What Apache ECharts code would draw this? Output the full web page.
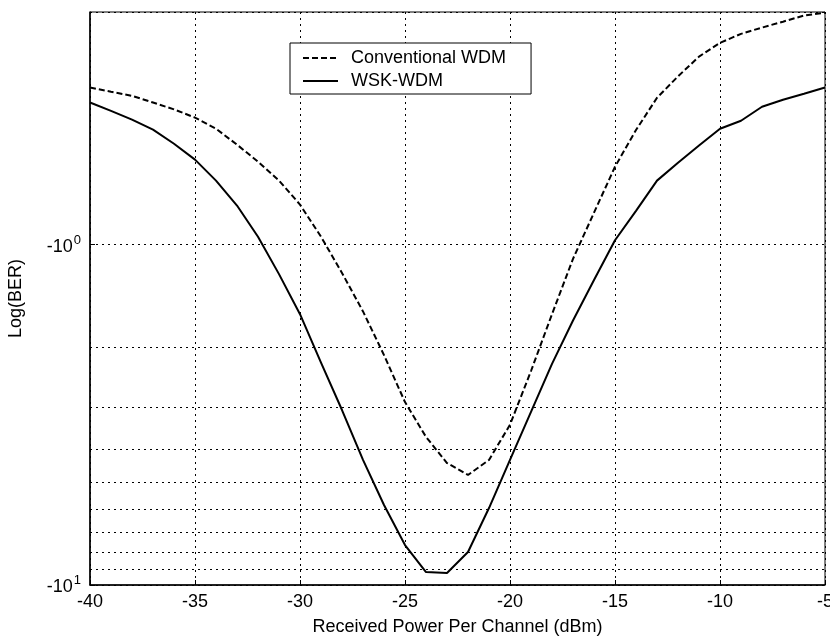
<!DOCTYPE html>
<html><head><meta charset="utf-8">
<script src="https://cdn.jsdelivr.net/npm/echarts@6/dist/echarts.min.js"></script>
<style>html,body{margin:0;padding:0;background:#fff}#c{width:830px;height:638px}</style>
</head><body><div id="c"></div>
<script>
const powerDbm = [-40,-39,-38,-37,-36,-35,-34,-33,-32,-31,-30,-29,-28,-27,-26,-25,-24,-23,-22,-21,-20,-19,-18,-17,-16,-15,-14,-13,-12,-11,-10,-9,-8,-7,-6,-5];
const conventionalWdm = [0.345,0.355,0.365,0.382,0.40,0.423,0.456,0.508,0.57,0.648,0.762,0.947,1.21,1.57,2.11,2.9,3.67,4.38,4.75,4.29,3.38,2.35,1.6,1.1,0.805,0.59,0.46,0.37,0.32,0.28,0.255,0.24,0.23,0.221,0.212,0.208];
const wskWdm = [0.382,0.404,0.429,0.459,0.505,0.562,0.648,0.767,0.947,1.22,1.6,2.22,3.06,4.29,5.82,7.63,9.16,9.22,8.0,5.94,4.29,3.1,2.24,1.67,1.27,0.97,0.795,0.648,0.574,0.511,0.456,0.432,0.393,0.375,0.36,0.345];
const seriesNames = ['Conventional WDM', 'WSK-WDM'];
const yMajorTicks = [1, 10];
const yMinorGrid = [2, 3, 4, 5, 6, 7, 8, 9];
const xAxisTitle = 'Received Power Per Channel (dBm)';
const yAxisTitle = 'Log(BER)';

const FONT = '"Liberation Sans", Arial, sans-serif';
const dotted = { type: [2, 4], color: '#000', width: 1 };
const pairs = arr => powerDbm.map((x, i) => [x, arr[i]]);

const chart = echarts.init(document.getElementById('c'), null, { renderer: 'canvas' });
chart.setOption({
  animation: false,
  backgroundColor: '#fff',
  textStyle: { fontFamily: FONT, color: '#000' },
  grid: { left: 90, right: 5, top: 12, bottom: 53, show: true, borderColor: '#000', borderWidth: 1, outerBoundsMode: 'none' },
  legend: {
    data: seriesNames,
    orient: 'vertical', left: 290, top: 43,
    backgroundColor: '#fff', borderColor: '#000', borderWidth: 1,
    padding: [6, 25, 4, 12], itemGap: 5, itemWidth: 35, itemHeight: 12,
    itemStyle: { color: 'rgba(0,0,0,0)', borderWidth: 0, opacity: 0 },
    textStyle: { fontFamily: FONT, fontSize: 18, color: '#000', padding: [0, 0, 0, 8] }
  },
  xAxis: {
    type: 'value', min: -40, max: -5, interval: 5,
    axisLine: { show: true, lineStyle: { color: '#000', width: 1.5 } },
    axisTick: { show: true, inside: true, length: 5, lineStyle: { color: '#000' } },
    axisLabel: { fontFamily: FONT, fontSize: 18, color: '#000', margin: 8 },
    splitLine: { show: true, lineStyle: dotted },
    name: xAxisTitle, nameLocation: 'middle', nameGap: 33,
    nameTextStyle: { fontFamily: FONT, fontSize: 18, color: '#000' }
  },
  yAxis: {
    type: 'log', logBase: 10, inverse: true, min: 0.207, max: 10,
    axisLine: { show: true, lineStyle: { color: '#000', width: 1.5 } },
    axisTick: { show: true, inside: true, length: 5, lineStyle: { color: '#000' } },
    axisLabel: {
      margin: 9, showMinLabel: false,
      formatter: function (v) {
        for (let i = 0; i < yMajorTicks.length; i++) {
          if (Math.abs(v - yMajorTicks[i]) < 1e-6 * yMajorTicks[i]) return '{n|-10}{s|' + i + '}';
        }
        return '';
      },
      rich: {
        n: { fontFamily: FONT, fontSize: 18, color: '#000', verticalAlign: 'bottom' },
        s: { fontFamily: FONT, fontSize: 13, color: '#000', verticalAlign: 'bottom', padding: [0, 0, 9, 1] }
      }
    },
    splitLine: { show: true, lineStyle: dotted },
    name: yAxisTitle, nameLocation: 'middle', nameGap: 65, nameRotate: 90,
    nameTextStyle: { fontFamily: FONT, fontSize: 18, color: '#000' }
  },
  series: [
    {
      name: seriesNames[0], type: 'line', data: pairs(conventionalWdm),
      symbol: 'none', smooth: false,
      lineStyle: { color: '#000', width: 2, type: [6, 3] },
      itemStyle: { color: '#000' }, z: 3
    },
    {
      name: seriesNames[1], type: 'line', data: pairs(wskWdm),
      symbol: 'none', smooth: false,
      lineStyle: { color: '#000', width: 2, type: 'solid' },
      itemStyle: { color: '#000' }, z: 3,
      markLine: {
        silent: true, symbol: ['none', 'none'], label: { show: false },
        lineStyle: dotted, z: 1,
        data: yMinorGrid.map(v => ({ yAxis: v }))
      }
    }
  ]
});
</script>
</body></html>
